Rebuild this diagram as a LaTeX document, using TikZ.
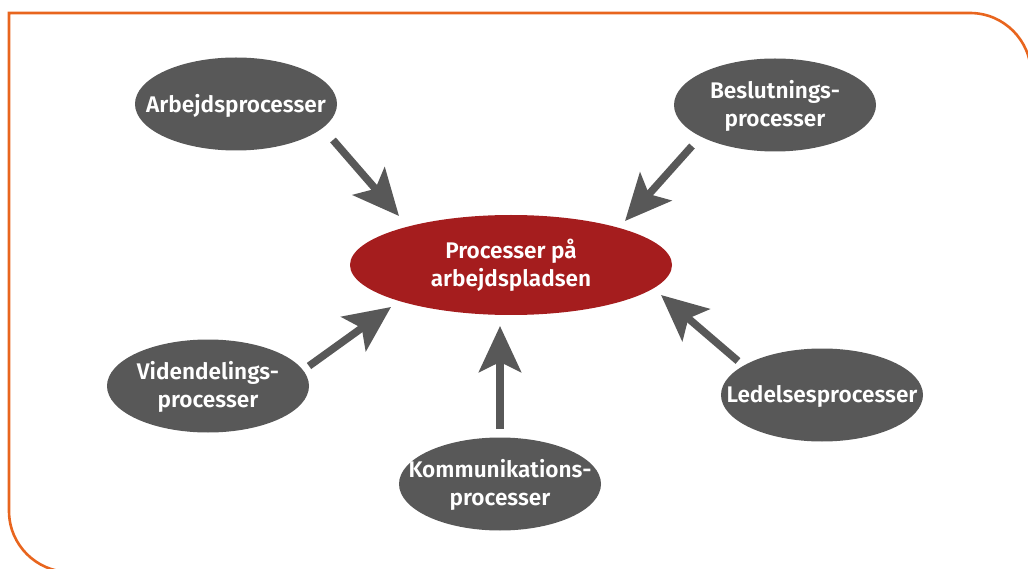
\documentclass[tikz,border=0pt]{standalone}
\usepackage{fontspec}
\setmainfont{Fira Sans}[BoldFont={Fira Sans SemiBold}]
\usetikzlibrary{arrows.meta,shapes.geometric}
\definecolor{bordero}{HTML}{E8651E}
\definecolor{nodegray}{HTML}{585858}
\definecolor{centerred}{HTML}{A51D1E}
\begin{document}
\begin{tikzpicture}[x=1pt,y=-1pt,
  proc/.style={ellipse,fill=nodegray,inner sep=0pt,minimum width=202pt,minimum height=93pt},
  hub/.style={ellipse,fill=centerred,inner sep=0pt,minimum width=322pt,minimum height=100pt},
  lbl/.style={text=white,font=\bfseries\fontsize{22.6}{27.5}\selectfont,align=center,inner sep=0pt},
  bigarrow/.style={draw=nodegray,line width=7.5pt,
    -{Stealth[length=46pt,width=42pt,inset=10pt]}}]
\useasboundingbox (0,0) rectangle (1028,569);
\draw[bordero,line width=2.6pt] (9,13) -- (970,13) arc[start angle=-90,end angle=0,radius=61] -- (1031,572)
  -- (70,572) arc[start angle=90,end angle=180,radius=61] -- cycle;
\node[hub] (c) at (511,265) {};
\node[lbl] at ([yshift=-0.5pt]c) {Processer på\\arbejdspladsen};
\node[proc] (a) at (236,104) {};
\node[lbl] at ([yshift=-1.5pt]a) {Arbejdsprocesser};
\node[proc] (b) at (775,105) {};
\node[lbl] at ([yshift=-1pt]b) {Beslutnings-\\processer};
\node[proc] (v) at (208,386) {};
\node[lbl] at ([yshift=-1pt]v) {Videndelings-\\processer};
\node[proc] (k) at (500,484) {};
\node[lbl] at ([yshift=-1pt]k) {Kommunikations-\\processer};
\node[proc] (l) at (822,395) {};
\node[lbl] at ([yshift=-1.5pt]l) {Ledelsesprocesser};
\coordinate (a1) at (333,140); \coordinate (a2) at (399,216);
\coordinate (b1) at (692,146); \coordinate (b2) at (625,221);
\coordinate (v1) at (309,366); \coordinate (v2) at (391,307);
\coordinate (k1) at (500,429); \coordinate (k2) at (500,326);
\coordinate (l1) at (738,361); \coordinate (l2) at (661,295);
\draw[bigarrow] (a1) -- (a2);
\draw[bigarrow] (b1) -- (b2);
\draw[bigarrow] (v1) -- (v2);
\draw[bigarrow] (k1) -- (k2);
\draw[bigarrow] (l1) -- (l2);
\end{tikzpicture}
\end{document}
